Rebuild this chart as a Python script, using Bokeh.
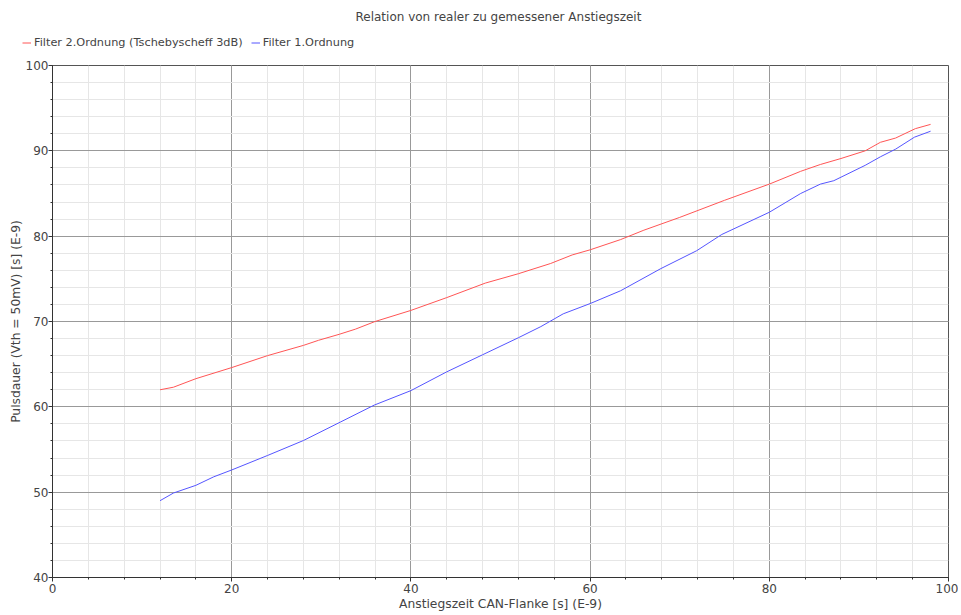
from bokeh.plotting import figure
from bokeh.models import Legend, LegendItem, FixedTicker, Range1d
from bokeh.layouts import column
from bokeh.embed import file_html
from bokeh.resources import INLINE

# ---- data ----
red_x = [12, 13.5, 16, 20, 24, 28, 29.7, 32, 33.8, 36, 40, 44, 48.3, 52, 55.6, 58, 60, 63.4,
         66, 70, 75, 80, 83.5, 85.7, 88, 90.7, 92.4, 94.1, 96.3, 98]
red_y = [62.0, 62.3, 63.3, 64.6, 66.0, 67.2, 67.8, 68.5, 69.1, 70.0, 71.3, 72.8, 74.5, 75.6, 76.8,
         77.8, 78.4, 79.6, 80.7, 82.2, 84.2, 86.1, 87.6, 88.4, 89.1, 90.0, 91.0, 91.5, 92.6, 93.1]

blue_x = [12, 13.5, 16, 18, 20, 24, 28, 32.1, 35.9, 40, 44, 48, 52, 54.5, 57, 60, 63.4,
          67.9, 71.9, 74.7, 80, 83.5, 85.7, 87.2, 90.7, 92.4, 94.1, 96.2, 98]
blue_y = [49.0, 49.9, 50.8, 51.8, 52.6, 54.3, 56.05, 58.2, 60.2, 61.9, 64.1, 66.1, 68.1, 69.4,
          70.9, 72.1, 73.6, 76.2, 78.3, 80.2, 82.8, 85.0, 86.1, 86.5, 88.3, 89.3, 90.2, 91.6, 92.3]

red_name = "Filter 2.Ordnung (Tschebyscheff 3dB)"
blue_name = "Filter 1.Ordnung"
title_text = "Relation von realer zu gemessener Anstiegszeit"
x_label = "Anstiegszeit CAN-Flanke [s] (E-9)"
y_label = "Pulsdauer (Vth = 50mV) [s] (E-9)"

x_major = [0, 20, 40, 60, 80, 100]
x_minor = [v for v in range(0, 101, 4)]
y_major = [40, 50, 60, 70, 80, 90, 100]
y_minor = [v for v in range(40, 101, 2)]

FONT = "DejaVu Sans"
TXT = "#444444"
RED = "#ff5555"
BLUE = "#5555ff"
W = 958

# ---- header: title + legend ----
head = figure(width=W, height=50, output_backend="svg", toolbar_location=None,
              x_range=Range1d(0, 100), y_range=Range1d(200, 300),
              min_border_left=0, min_border_right=0, min_border_top=28, min_border_bottom=0)
head.frame_align = False
head.axis.visible = False
head.grid.visible = False
head.outline_line_color = None
head.title.text = title_text
head.title.align = "left"
head.title.offset = 355
head.title.text_font = FONT
head.title.text_font_size = "12px"
head.title.text_font_style = "normal"
head.title.text_color = TXT

h1 = head.line(red_x, red_y, line_color=RED, line_width=1)
h2 = head.line(blue_x, blue_y, line_color=BLUE, line_width=1)
legend = Legend(items=[LegendItem(label=red_name, renderers=[h1]),
                       LegendItem(label=blue_name, renderers=[h2])],
                orientation="horizontal", location=(22, 1),
                label_text_font=FONT, label_text_font_size="11.3px", label_text_color=TXT,
                glyph_width=9, glyph_height=13, label_standoff=3, spacing=8,
                label_height=13, padding=0, margin=0,
                border_line_color=None, background_fill_alpha=0)
head.add_layout(legend)

# ---- main plot ----
p = figure(width=W, height=564, output_backend="svg", toolbar_location=None,
           x_range=Range1d(0, 100), y_range=Range1d(40, 100),
           min_border_left=52, min_border_right=10, min_border_top=15, min_border_bottom=37)

p.line(red_x, red_y, line_color=RED, line_width=1)
p.line(blue_x, blue_y, line_color=BLUE, line_width=1)

for ax, major, minor in ((p.xaxis, x_major, x_minor), (p.yaxis, y_major, y_minor)):
    ax.ticker = FixedTicker(ticks=major, minor_ticks=minor)
    ax.axis_line_color = "#333333"
    ax.major_tick_line_color = "#333333"
    ax.minor_tick_line_color = "#333333"
    ax.major_tick_out = 4
    ax.major_tick_in = 0
    ax.minor_tick_out = 2
    ax.minor_tick_in = 0
    ax.major_label_text_font = FONT
    ax.major_label_text_font_size = "12px"
    ax.major_label_text_color = TXT
    ax.axis_label_text_font = FONT
    ax.axis_label_text_font_size = "12.3px"
    ax.axis_label_text_font_style = "normal"
    ax.axis_label_text_color = TXT

p.xaxis.major_label_standoff = 2
p.xaxis.axis_label_standoff = 1
p.yaxis.major_label_standoff = 0
p.yaxis.axis_label_standoff = 0

p.xaxis.axis_label = x_label
p.yaxis.axis_label = y_label

p.xgrid.ticker = FixedTicker(ticks=x_major, minor_ticks=x_minor)
p.ygrid.ticker = FixedTicker(ticks=y_major, minor_ticks=y_minor)
for g in (p.xgrid, p.ygrid):
    g.grid_line_color = "#999999"
    g.grid_line_width = 1
    g.minor_grid_line_color = "#e6e6e6"
    g.minor_grid_line_width = 1

p.outline_line_color = "#555555"
p.background_fill_color = "white"

layout = column(head, p, spacing=0)
open("out.html", "w").write(file_html(layout, INLINE))
